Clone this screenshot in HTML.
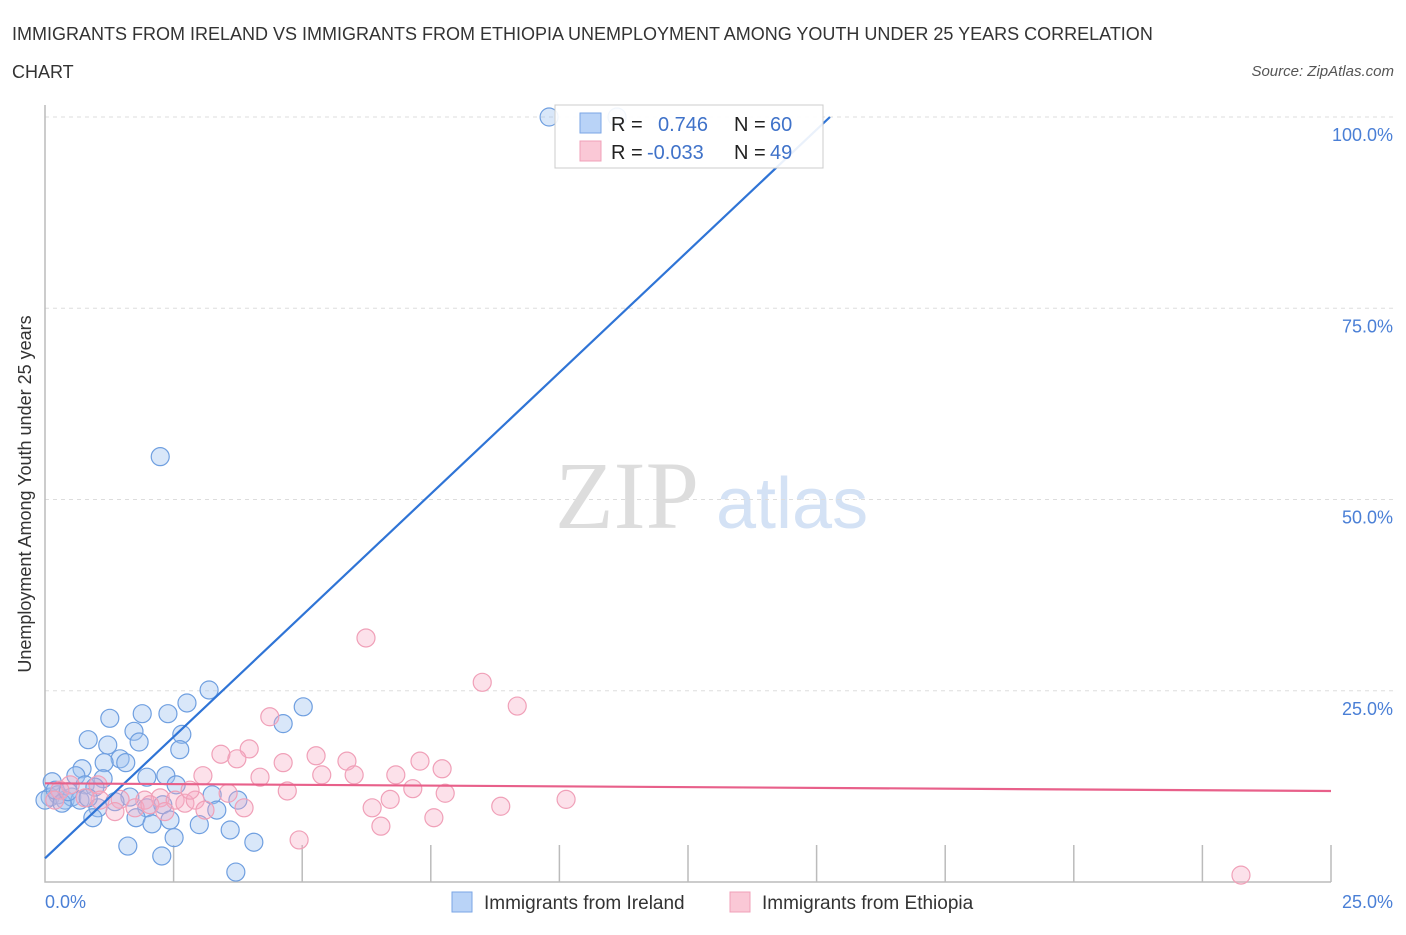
<!DOCTYPE html>
<html><head><meta charset="utf-8"><style>
body{margin:0;background:#fff;font-family:"Liberation Sans",sans-serif;}
</style></head><body>
<svg width="1406" height="930" xmlns="http://www.w3.org/2000/svg">
<text x="12" y="40" font-size="18" fill="#333">IMMIGRANTS FROM IRELAND VS IMMIGRANTS FROM ETHIOPIA UNEMPLOYMENT AMONG YOUTH UNDER 25 YEARS CORRELATION</text>
<text x="12" y="78" font-size="18" fill="#333">CHART</text>
<text x="1394" y="76" font-size="15" fill="#555" font-style="italic" text-anchor="end">Source: ZipAtlas.com</text>
<text x="555" y="528" font-size="96" fill="#ddd" font-family="Liberation Serif,serif">ZIP</text>
<text x="716" y="528" font-size="72" fill="#d4e2f5">atlas</text>
<g id="grid"></g>
<g id="axes"></g>
<g id="marks"></g>
<text x="31" y="494" font-size="18" fill="#333" text-anchor="middle" transform="rotate(-90 31 494)">Unemployment Among Youth under 25 years</text>
<text x="45" y="908" font-size="18" fill="#4a7fd6">0.0%</text>
<text x="1393" y="908" font-size="18" fill="#4a7fd6" text-anchor="end">25.0%</text>
<g>
<rect x="555" y="105" width="268" height="63" fill="#fff" fill-opacity="0.9" stroke="#ccc"/>
<rect x="580" y="113" width="21" height="20" fill="#b9d3f7" stroke="#7aa6e6"/>
<rect x="580" y="141" width="21" height="20" fill="#fac8d6" stroke="#f0a0b8"/>
<text x="611" y="131" font-size="20" fill="#222">R = </text><text x="658" y="131" font-size="20" fill="#3f72c9">0.746</text>
<text x="734" y="131" font-size="20" fill="#222">N = </text><text x="770" y="131" font-size="20" fill="#3f72c9">60</text>
<text x="611" y="159" font-size="20" fill="#222">R = </text><text x="647" y="159" font-size="20" fill="#3f72c9">-0.033</text>
<text x="734" y="159" font-size="20" fill="#222">N = </text><text x="770" y="159" font-size="20" fill="#3f72c9">49</text>
</g>
<g>
<rect x="452" y="892" width="20" height="20" fill="#b9d3f7" stroke="#7aa6e6"/>
<text x="484" y="909" font-size="19" fill="#333">Immigrants from Ireland</text>
<rect x="730" y="892" width="20" height="20" fill="#fac8d6" stroke="#f0a0b8"/>
<text x="762" y="909" font-size="19" fill="#333">Immigrants from Ethiopia</text>
</g>
</svg>
<script>
const yTicks=[25,50,75,100];
const yTickLabels=["25.0%","50.0%","75.0%","100.0%"];
const xTicks=[2.5,5,7.5,10,12.5,15,17.5,20,22.5,25];
const irelandX=[9.8,11.12,2.24,3.19,5.02,2.76,4.63,1.26,1.89,2.39,1.73,2.66,0.84,1.22,1.83,2.62,1.46,1.57,1.15,0.72,2.35,1.98,0.6,1.13,2.55,0.78,0.97,0.14,3.25,3.75,1.65,1.36,1.03,1.98,3.34,2.29,0.93,1.77,2.08,2.43,3.0,3.6,2.51,4.06,1.61,2.27,3.71,0.1,0.25,0.39,0.52,0.68,0,0.2,0.33,0.84,0.45];
const irelandY=[100,100,55.6,25.1,22.9,23.4,20.7,21.4,22.0,22.0,19.7,19.3,18.6,17.9,18.3,17.3,16.1,15.6,15.6,14.8,13.9,13.7,13.9,13.5,12.7,12.7,12.4,13.1,11.4,10.7,11.1,10.5,9.7,9.7,9.4,10.1,8.4,8.4,7.6,8.1,7.5,6.8,5.8,5.2,4.7,3.4,1.3,11.1,11.4,10.7,11.1,10.7,10.7,12.0,10.3,11.0,11.8];
const ethiopiaX=[6.24,8.5,9.18,4.37,3.97,3.42,3.73,5.27,5.87,7.29,4.63,7.72,3.07,4.18,5.38,6.01,6.82,3.56,4.71,7.15,7.78,6.71,10.13,3.87,6.36,8.86,6.53,7.56,4.94,23.25,0.49,1.03,1.46,1.94,2.24,2.53,2.72,2.92,3.11,1.75,1.36,1.07,0.78,0.29,2.04,2.33,0.19,2.82];
const ethiopiaY=[31.9,26.1,23.0,21.6,17.4,16.7,16.1,16.5,15.8,15.8,15.6,14.8,13.9,13.7,14.0,14.0,14.0,11.6,11.9,12.2,11.6,10.8,10.8,9.7,9.7,9.9,7.3,8.4,5.5,0.9,12.7,12.7,10.8,10.7,11.0,10.7,10.3,10.7,9.4,9.7,9.2,10.7,11.0,12.0,10.1,9.2,10.7,12.0];
const irelandFit=[3.1,6.35];   // intercept, slope
const ethiopiaFit=[12.9,-0.04];
const NS='http://www.w3.org/2000/svg';
const sx=v=>45+v*51.44, sy=v=>882-v*7.65;
function mk(parent,tag,attrs){const e=document.createElementNS(NS,tag);for(const k in attrs)e.setAttribute(k,attrs[k]);document.getElementById(parent).appendChild(e);return e;}
yTicks.forEach((t,i)=>{
 const g=mk('grid','line',{x1:45,x2:1395,y1:sy(t),y2:sy(t),stroke:'#ddd','stroke-dasharray':'4 4'});
 
 
 const l=mk('grid','text',{x:1393,y:sy(t)+24,'font-size':18,fill:'#4a7fd6','text-anchor':'end'});
 l.textContent=yTickLabels[i];
 
 
});
const ax=mk('axes','path',{d:'M45 105V882H1331',fill:'none',stroke:'#bbb','stroke-width':1.5});


xTicks.forEach(t=>{
 const e=mk('axes','line',{x1:sx(t),x2:sx(t),y1:845,y2:882,stroke:'#bbb','stroke-width':1.5});
 
 
});
function dots(xs,ys,fill,stroke,name){xs.forEach((x,i)=>{
 const c=mk('marks','circle',{cx:sx(x),cy:sy(ys[i]),r:9,fill:fill,stroke:stroke,'stroke-width':1.2});
 
 
});}
dots(irelandX,irelandY,'rgba(160,196,240,0.4)','#6f9fe0','ireland-point');
dots(ethiopiaX,ethiopiaY,'rgba(245,170,195,0.35)','#f0a0b8','ethiopia-point');
const x2=(100-irelandFit[0])/irelandFit[1];
const l1=mk('marks','line',{x1:sx(0),y1:sy(irelandFit[0]),x2:sx(x2),y2:sy(100),stroke:'#2f74d6','stroke-width':2.2});


const l2=mk('marks','line',{x1:sx(0),y1:sy(ethiopiaFit[0]),x2:sx(25),y2:sy(ethiopiaFit[0]+25*ethiopiaFit[1]),stroke:'#e8608a','stroke-width':2.2});


</script>
</body></html>
